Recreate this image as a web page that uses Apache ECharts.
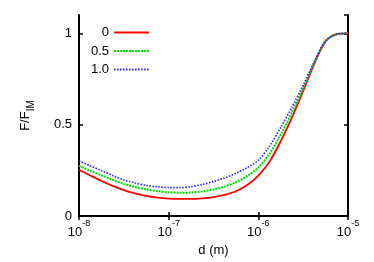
<!DOCTYPE html>
<html>
<head>
<meta charset="utf-8">
<script src="https://cdn.jsdelivr.net/npm/echarts@6/dist/echarts.min.js"></script>
<style>
html,body{margin:0;padding:0;background:#fff;}
#chart{width:374px;height:262px;}
</style>
</head>
<body>
<div id="chart"></div>
<script>
// x positions given as base-10 exponents of d (m)
var dExp = [-8, -7.875, -7.75, -7.625, -7.5, -7.375, -7.25, -7.125, -7, -6.875, -6.75, -6.625, -6.5,
            -6.375, -6.25, -6.125, -6, -5.875, -5.75, -5.625, -5.5, -5.375, -5.25, -5.125, -5];
var seriesNames = ['0', '0.5', '1.0'];
var vals0  = [0.253, 0.222, 0.192, 0.165, 0.142, 0.124, 0.110, 0.101, 0.096, 0.094, 0.094, 0.097, 0.104,
              0.116, 0.136, 0.170, 0.222, 0.298, 0.410, 0.540, 0.685, 0.833, 0.955, 0.995, 1.0];
var vals05 = [0.275, 0.248, 0.223, 0.198, 0.176, 0.159, 0.146, 0.136, 0.130, 0.128, 0.129, 0.135, 0.146,
              0.162, 0.185, 0.219, 0.266, 0.342, 0.446, 0.568, 0.700, 0.840, 0.958, 0.995, 1.0];
var vals10 = [0.302, 0.275, 0.249, 0.222, 0.198, 0.181, 0.168, 0.160, 0.156, 0.156, 0.161, 0.173, 0.189,
              0.209, 0.234, 0.265, 0.306, 0.382, 0.485, 0.596, 0.715, 0.845, 0.960, 0.995, 1.0];
var yTicks = [0, 0.5, 1];
var xTickExps = [-8, -7, -6, -5];

function pairs(v) { return dExp.map(function (e, i) { return [Math.pow(10, e), v[i]]; }); }

var font = 'Liberation Sans';
var chart = echarts.init(document.getElementById('chart'), null, {renderer: 'canvas'});

var axisLineStyle = {show: true, lineStyle: {color: '#000', width: 2}};
var tickStyle = {show: true, inside: true, length: 4, lineStyle: {color: '#000', width: 1.5}};

chart.setOption({
  animation: false,
  backgroundColor: '#fff',
  grid: {left: 79, right: 26, top: 15, bottom: 41, containLabel: false},
  legend: {
    orient: 'vertical',
    left: 86, top: 21,
    align: 'right',
    itemWidth: 35, itemHeight: 14, itemGap: 5.5,
    itemStyle: {opacity: 0},
    data: seriesNames,
    formatter: function (n) { return '{t|' + n + '}'; },
    textStyle: {
      fontFamily: font, fontSize: 13, color: '#000',
      rich: {t: {width: 24, align: 'right', fontFamily: font, fontSize: 13, color: '#000'}}
    }
  },
  xAxis: [{
    type: 'log', logBase: 10, min: 1e-8, max: 1e-5,
    position: 'bottom',
    name: 'd (m)', nameLocation: 'middle', nameGap: 24,
    nameTextStyle: {fontFamily: font, fontSize: 13, color: '#000'},
    axisLine: axisLineStyle, axisTick: tickStyle,
    minorTick: {show: false}, splitLine: {show: false},
    axisLabel: {
      margin: 3,
      formatter: function (v) {
        var e = Math.round(Math.log10(v));
        if (xTickExps.indexOf(e) < 0) return '';
        return '{b|10}{s|' + e + '}';
      },
      rich: {
        b: {fontFamily: font, fontSize: 13, color: '#000', lineHeight: 20, verticalAlign: 'bottom'},
        s: {fontFamily: font, fontSize: 9, color: '#000', lineHeight: 10, verticalAlign: 'top'}
      }
    }
  }, {
    type: 'log', logBase: 10, min: 1e-8, max: 1e-5,
    position: 'top',
    axisLine: axisLineStyle, axisTick: tickStyle,
    axisLabel: {show: false}, splitLine: {show: false}
  }],
  yAxis: [{
    type: 'value', min: 0, max: 1.1, interval: 0.5,
    position: 'left',
    name: 'F/F{sub|IM}', nameLocation: 'middle', nameGap: 43,
    nameTextStyle: {
      fontFamily: font, fontSize: 13, color: '#000',
      rich: {sub: {fontFamily: font, fontSize: 10, color: '#000', verticalAlign: 'bottom', lineHeight: 22}}
    },
    axisLine: axisLineStyle, axisTick: tickStyle, splitLine: {show: false},
    axisLabel: {
      margin: 7, showMaxLabel: false,
      fontFamily: font, fontSize: 13, color: '#000',
      formatter: function (v) { return yTicks.indexOf(v) >= 0 ? String(v) : ''; }
    }
  }, {
    type: 'value', min: 0, max: 1.1, interval: 0.5,
    position: 'right',
    axisLine: axisLineStyle, axisTick: tickStyle,
    axisLabel: {show: false}, splitLine: {show: false}
  }],
  series: [{
    name: seriesNames[0], type: 'line', data: pairs(vals0), smooth: 0.3,
    symbol: 'none', xAxisIndex: 0, yAxisIndex: 0,
    lineStyle: {color: '#ff0000', width: 1.8, type: 'solid'}, itemStyle: {color: '#ff0000'}
  }, {
    name: seriesNames[1], type: 'line', data: pairs(vals05), smooth: 0.3,
    symbol: 'none', xAxisIndex: 0, yAxisIndex: 0,
    lineStyle: {color: '#00e000', width: 2, type: [2, 1]}, itemStyle: {color: '#00e000'}
  }, {
    name: seriesNames[2], type: 'line', data: pairs(vals10), smooth: 0.3,
    symbol: 'none', xAxisIndex: 0, yAxisIndex: 0,
    lineStyle: {color: '#2222ff', width: 1.6, type: [1.5, 1.5]}, itemStyle: {color: '#2222ff'}
  }]
});
</script>
</body>
</html>
